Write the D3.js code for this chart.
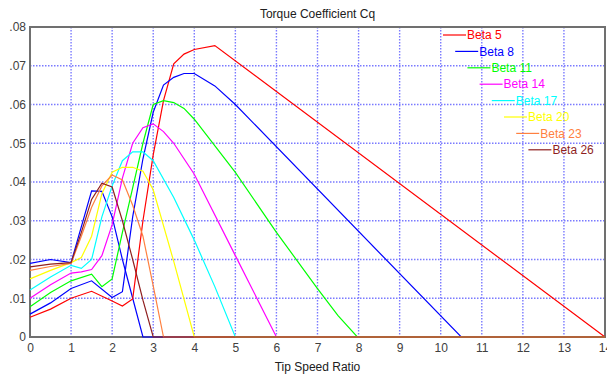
<!DOCTYPE html>
<html>
<head>
<meta charset="utf-8">
<script src="https://cdn.jsdelivr.net/npm/d3@7"></script>
<style>
  body { margin: 0; background: #fff; }
  svg { display: block; font-family: "Liberation Sans", Arial, sans-serif; }
</style>
</head>
<body>
<script>
// tip speed ratio / Cq pairs
const beta5  = [[0,.0051],[.5,.0072],[1,.0100],[1.5,.0118],[2,.0093],[2.25,.0080],[2.5,.0098],[2.75,.030],[3,.047],[3.25,.061],[3.5,.0705],[3.75,.073],[4,.0742],[4.5,.0752],[14,0]];
const beta8  = [[0,.0059],[.5,.0088],[1,.0125],[1.5,.0145],[2,.0102],[2.25,.0117],[2.5,.031],[2.75,.046],[3,.058],[3.25,.065],[3.5,.067],[3.75,.068],[4,.068],[4.5,.0648],[5,.060],[10.5,0],[14,0]];
const beta11 = [[0,.0078],[.5,.0115],[1,.0145],[1.5,.0162],[1.75,.013],[2,.015],[2.25,.027],[2.5,.0385],[2.75,.050],[3,.060],[3.25,.061],[3.5,.0605],[3.75,.059],[4,.0562],[5,.0425],[6,.027],[7,.0125],[7.5,.0055],[7.97,0],[14,0]];
const beta14 = [[0,.0100],[.5,.0135],[1,.0165],[1.25,.0168],[1.5,.0174],[1.75,.021],[2,.029],[2.25,.041],[2.5,.050],[2.75,.054],[3,.055],[3.25,.053],[3.5,.050],[4,.042],[5,.021],[6,0],[14,0]];
const beta17 = [[0,.0121],[.5,.0155],[1,.0185],[1.25,.0177],[1.5,.020],[1.75,.031],[2,.039],[2.25,.0455],[2.5,.0478],[2.75,.0478],[3,.0455],[3.5,.036],[4,.025],[4.5,.013],[5,0],[14,0]];
const beta20 = [[0,.0150],[.5,.0172],[1,.0192],[1.25,.0205],[1.5,.026],[1.75,.037],[2,.0425],[2.25,.0438],[2.5,.0438],[2.75,.0428],[3,.038],[3.5,.0195],[4,0],[14,0]];
const beta23 = [[0,.0172],[.5,.0182],[1,.0190],[1.25,.026],[1.5,.0335],[1.75,.039],[2,.0418],[2.25,.0405],[2.5,.034],[2.75,.026],[3,.0132],[3.25,0],[14,0]];
const beta26 = [[0,.0181],[.5,.0188],[1,.0192],[1.25,.027],[1.5,.0355],[1.75,.0397],[2,.0387],[2.25,.030],[2.5,.020],[2.75,.0095],[3,0],[14,0]];
const beta29 = [[0,.0190],[.5,.0200],[1,.0192],[1.5,.0377],[1.75,.0376],[2,.031],[2.25,.020],[2.5,.010],[2.75,0],[14,0]];

const legendLabels = ["Beta 5", "Beta 8", "Beta 11", "Beta 14", "Beta 17", "Beta 20", "Beta 23", "Beta 26"];
const xTicks = [0,1,2,3,4,5,6,7,8,9,10,11,12,13,14];
const yTicks = [0,.01,.02,.03,.04,.05,.06,.07,.08];

// drawing order: the unlabelled blue first, brown last so it sits on the baseline
const series = [
  {data: beta29, color: "#0000ff"},
  {data: beta5,  color: "#ff0000", label: legendLabels[0]},
  {data: beta8,  color: "#0000ff", label: legendLabels[1]},
  {data: beta11, color: "#00ff00", label: legendLabels[2]},
  {data: beta14, color: "#ff00ff", label: legendLabels[3]},
  {data: beta17, color: "#00ffff", label: legendLabels[4]},
  {data: beta20, color: "#ffff00", label: legendLabels[5]},
  {data: beta23, color: "#ff8040", label: legendLabels[6]},
  {data: beta26, color: "#8f1f1f", label: legendLabels[7]}
];

const width = 607, height = 376;
const margin = {top: 27, right: 2, bottom: 39, left: 30};

const x = d3.scaleLinear().domain([0, 14]).range([margin.left, width - margin.right]);
const y = d3.scaleLinear().domain([0, .08]).range([height - margin.bottom, margin.top]);

const svg = d3.select("body").append("svg")
    .attr("width", width)
    .attr("height", height);

// grid
const grid = svg.append("g")
    .attr("stroke", "#7a7aff")
    .attr("stroke-width", 1.4)
    .attr("stroke-dasharray", "1.5,1.5");
grid.selectAll("line.v")
  .data(xTicks.slice(1, -1))
  .join("line")
    .attr("class", "v")
    .attr("x1", d => x(d)).attr("x2", d => x(d))
    .attr("y1", y(.08)).attr("y2", y(0));
grid.selectAll("line.h")
  .data(yTicks.slice(1, -1))
  .join("line")
    .attr("class", "h")
    .attr("x1", x(0)).attr("x2", x(14))
    .attr("y1", d => y(d)).attr("y2", d => y(d));

// axes
const fmt = d => d === 0 ? "0" : d3.format(".2f")(d).replace(/^0/, "");

svg.append("g")
    .attr("transform", `translate(0,${y(0)})`)
    .call(d3.axisBottom(x).tickValues(xTicks).tickFormat(d3.format("d")).tickSize(0).tickPadding(6))
    .call(g => g.select(".domain").remove())
    .call(g => g.selectAll("text").attr("fill", "#404040").attr("font-size", 12));

svg.append("g")
    .attr("transform", `translate(${x(0)},0)`)
    .call(d3.axisLeft(y).tickValues(yTicks).tickFormat(fmt).tickSize(0).tickPadding(4))
    .call(g => g.select(".domain").remove())
    .call(g => g.selectAll("text").attr("fill", "#404040").attr("font-size", 12));

// frame
svg.append("rect")
    .attr("x", x(0)).attr("y", y(.08))
    .attr("width", x(14) - x(0)).attr("height", y(0) - y(.08))
    .attr("fill", "none")
    .attr("stroke", "#707070")
    .attr("stroke-width", 2);

// curves
const line = d3.line().x(d => x(d[0])).y(d => y(d[1]));
svg.append("g")
    .attr("fill", "none")
    .attr("stroke-width", 1.2)
  .selectAll("path")
  .data(series)
  .join("path")
    .attr("stroke", d => d.color)
    .attr("d", d => line(d.data));

// staggered legend
const legend = svg.append("g")
    .attr("font-size", 12)
  .selectAll("g")
  .data(series.filter(d => d.label))
  .join("g")
    .attr("transform", (d, i) => `translate(${443 + i * 12.2},${35 + i * 16.4})`);
legend.append("line")
    .attr("x1", 0).attr("x2", 23)
    .attr("stroke", d => d.color)
    .attr("stroke-width", 1.2);
legend.append("text")
    .attr("x", 24)
    .attr("dy", "0.35em")
    .attr("fill", d => d.color)
    .text(d => d.label);

// titles
svg.append("text")
    .attr("x", (x(0) + x(14)) / 2)
    .attr("y", 18)
    .attr("text-anchor", "middle")
    .attr("font-size", 12)
    .attr("fill", "#202020")
    .text("Torque Coefficient Cq");

svg.append("text")
    .attr("x", (x(0) + x(14)) / 2)
    .attr("y", 371)
    .attr("text-anchor", "middle")
    .attr("font-size", 12)
    .attr("fill", "#202020")
    .text("Tip Speed Ratio");
</script>
</body>
</html>
